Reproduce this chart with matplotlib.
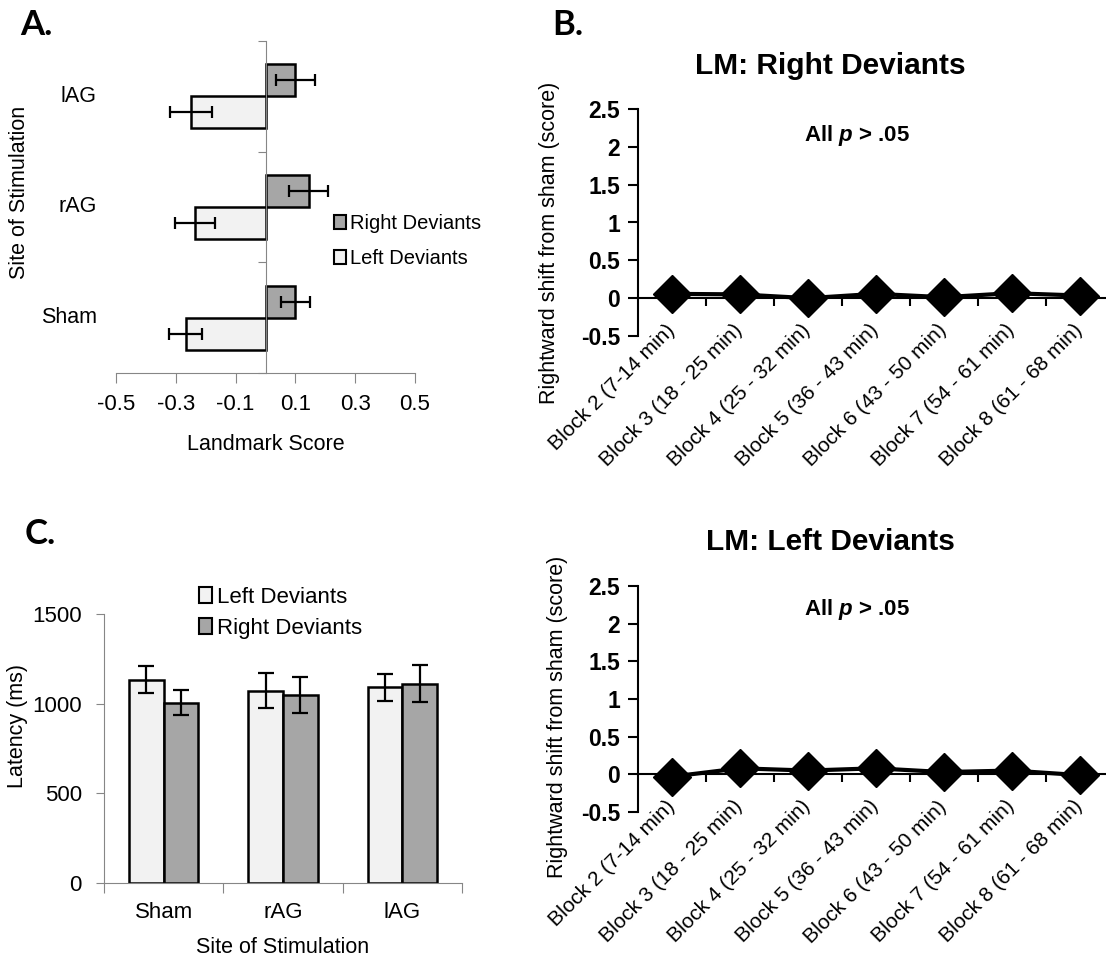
import matplotlib
matplotlib.use('Agg')
import matplotlib.pyplot as plt
import numpy as np
from matplotlib.patches import Patch

plt.rcParams['font.family'] = ['Liberation Sans', 'DejaVu Sans']
plt.rcParams['axes.unicode_minus'] = False
plt.rcParams['mathtext.fontset'] = 'custom'
plt.rcParams['mathtext.it'] = 'Liberation Sans:italic:bold'

W, H = 1106, 961

# panel A: landmark score per site (bottom to top)
sites_a = ['Sham', 'rAG', 'lAG']
right_dev_a = [0.10, 0.144, 0.10]
right_err_a = [0.048, 0.064, 0.064]
left_dev_a = [-0.267, -0.237, -0.25]
left_err_a = [0.055, 0.067, 0.071]
xticks_a = [-0.5, -0.3, -0.1, 0.1, 0.3, 0.5]

# panel B: rightward shift from sham per block
blocks = ['Block 2 (7-14 min)', 'Block 3 (18 - 25 min)', 'Block 4 (25 - 32 min)',
          'Block 5 (36 - 43 min)', 'Block 6 (43 - 50 min)', 'Block 7 (54 - 61 min)',
          'Block 8 (61 - 68 min)']
shift_right = [0.057, 0.05, 0.0, 0.057, 0.013, 0.066, 0.035]
shift_left = [-0.03, 0.08, 0.05, 0.08, 0.03, 0.05, -0.01]
yticks_b = [-0.5, 0, 0.5, 1, 1.5, 2, 2.5]
ylabels_b = ['-0.5', '0', '0.5', '1', '1.5', '2', '2.5']

# panel C: latency per site
sites_c = ['Sham', 'rAG', 'lAG']
lat_left = [1133, 1073, 1092]
lat_left_err = [75, 97, 75]
lat_right = [1006, 1049, 1110]
lat_right_err = [71, 99, 103]
yticks_c = [0, 500, 1000, 1500]

LIGHT = '#f2f2f2'
DARK = '#a6a6a6'
AXGRAY = '#868686'


def px_axes(fig, left, top, right, bottom):
    return fig.add_axes([left / W, 1 - bottom / H, (right - left) / W, (bottom - top) / H])


def fy(y):
    return 1 - y / H


fig = plt.figure(figsize=(W / 100, H / 100), dpi=100)

# ---------------- A ----------------
ax = px_axes(fig, 116, 41, 415, 373)
ya = np.arange(len(sites_a))
ekw = dict(elinewidth=1.6, capthick=1.6, ecolor='black')
ax.barh(ya + 0.145, right_dev_a, height=0.29, color=DARK, edgecolor='black', lw=1.8,
        xerr=right_err_a, capsize=4, error_kw=ekw, zorder=2)
ax.barh(ya - 0.145, left_dev_a, height=0.29, color=LIGHT, edgecolor='black', lw=1.8,
        xerr=left_err_a, capsize=4, error_kw=ekw, zorder=2)
ax.set_xlim(-0.5, 0.5)
ax.set_ylim(-0.5, 2.5)
for s in ['top', 'right']:
    ax.spines[s].set_visible(False)
ax.spines['left'].set_position(('data', 0))
ax.spines['left'].set_color(AXGRAY)
ax.spines['bottom'].set_color(AXGRAY)
ax.set_xticks(xticks_a, ['%.1f' % v for v in xticks_a])
ax.set_yticks([-0.5, 0.5, 1.5, 2.5], ['', '', '', ''])
ax.tick_params(axis='x', direction='out', length=7, color=AXGRAY, labelsize=16, pad=8)
ax.tick_params(axis='y', direction='out', length=6, color=AXGRAY)
for yi, name in zip(ya, sites_a):
    ax.text(-0.564, yi, name, ha='right', va='center', fontsize=15.5, clip_on=False)
ax.set_xlabel('Landmark Score', fontsize=15.5, labelpad=14)
fig.text(20 / W, fy(192), 'Site of Stimulation', rotation=90, ha='center', va='center', fontsize=15.5)
ax.legend([Patch(facecolor=DARK, edgecolor='black', lw=1.5),
           Patch(facecolor=LIGHT, edgecolor='black', lw=1.5)],
          ['Right Deviants', 'Left Deviants'], loc='upper left',
          bbox_to_anchor=(334 / W, fy(214)), bbox_transform=fig.transFigure,
          frameon=False, fontsize=14.5, handlelength=0.6, handleheight=0.7,
          handletextpad=0.2, labelspacing=0.8, borderpad=0, borderaxespad=0)


# ---------------- B ----------------
def draw_block(ax, vals, title, title_y, note_y):
    x = np.arange(len(blocks))
    ax.plot(x, vals, color='black', lw=3, marker='D', ms=19, zorder=3, clip_on=False)
    ax.set_xlim(-0.5, 6.39)
    ax.set_ylim(-0.5, 2.5)
    for s in ['top', 'right']:
        ax.spines[s].set_visible(False)
    ax.spines['bottom'].set_position(('data', 0))
    ax.spines['bottom'].set_linewidth(1.5)
    ax.spines['left'].set_linewidth(1.5)
    ax.set_yticks(yticks_b, ylabels_b)
    for t in ax.get_yticklabels():
        t.set_fontweight('bold')
    ax.tick_params(axis='y', direction='out', length=7, width=1.5, labelsize=16.5, pad=6)
    ax.set_xticks(x, blocks, rotation=45, ha='right', va='center', rotation_mode='anchor')
    ax.set_xticks(np.arange(0.5, 6, 1), minor=True)
    ax.tick_params(axis='x', which='major', length=0, labelsize=15, pad=21)
    ax.tick_params(axis='x', which='minor', direction='out', length=6, width=1.5)
    fig.text(830 / W, fy(title_y), title, ha='center', va='center', fontsize=21.5, fontweight='bold')
    fig.text(857 / W, fy(note_y), 'All $p$ > .05', ha='center', va='center', fontsize=16,
             fontweight='bold')


axb1 = px_axes(fig, 638, 109, 1106, 336)
draw_block(axb1, shift_right, 'LM: Right Deviants', 66, 135)
fig.text(550 / W, fy(243), 'Rightward shift from sham (score)', rotation=90,
         ha='center', va='center', fontsize=15.5)

axb2 = px_axes(fig, 638, 586, 1106, 812)
draw_block(axb2, shift_left, 'LM: Left Deviants', 542, 610)
fig.text(558 / W, fy(717), 'Rightward shift from sham (score)', rotation=90,
         ha='center', va='center', fontsize=15.5)

# ---------------- C ----------------
axc = px_axes(fig, 104, 614, 462, 883)
xc = np.arange(len(sites_c))
ekw_c = dict(elinewidth=1.6, capthick=1.6, ecolor='black')
axc.bar(xc - 0.145, lat_left, width=0.29, color=LIGHT, edgecolor='black', lw=1.8,
        yerr=lat_left_err, capsize=5.5, error_kw=ekw_c, zorder=2)
axc.bar(xc + 0.145, lat_right, width=0.29, color=DARK, edgecolor='black', lw=1.8,
        yerr=lat_right_err, capsize=5.5, error_kw=ekw_c, zorder=2)
axc.set_xlim(-0.5, 2.5)
axc.set_ylim(0, 1500)
for s in ['top', 'right']:
    axc.spines[s].set_visible(False)
axc.spines['left'].set_color(AXGRAY)
axc.spines['bottom'].set_color(AXGRAY)
axc.set_yticks(yticks_c)
axc.tick_params(axis='y', direction='out', length=6, color=AXGRAY, labelsize=16, pad=10)
axc.set_xticks([-0.5, 0.5, 1.5, 2.5], ['', '', '', ''])
axc.set_xticks(xc, sites_c, minor=True)
axc.tick_params(axis='x', which='major', direction='out', length=7, color=AXGRAY)
axc.tick_params(axis='x', which='minor', length=0, labelsize=16, pad=14)
axc.set_xlabel('Site of Stimulation', fontsize=15.5, labelpad=10)
fig.text(18 / W, fy(726), 'Latency (ms)', rotation=90, ha='center', va='center', fontsize=15.5)
axc.legend([Patch(facecolor=LIGHT, edgecolor='black', lw=1.5),
            Patch(facecolor=DARK, edgecolor='black', lw=1.5)],
           ['Left Deviants', 'Right Deviants'], loc='upper left',
           bbox_to_anchor=(199 / W, fy(587)), bbox_transform=fig.transFigure,
           frameon=False, fontsize=16, handlelength=0.6, handleheight=0.7,
           handletextpad=0.2, labelspacing=0.45, borderpad=0, borderaxespad=0)

# panel letters
for lab, x, y in [('A.', 20, 25), ('B.', 552, 25), ('C.', 25, 534)]:
    fig.text(x / W, fy(y), lab, ha='left', va='center', fontsize=25, fontweight='bold',
             family=['Lato', 'DejaVu Sans'])

fig.savefig('out.png', dpi=100)
